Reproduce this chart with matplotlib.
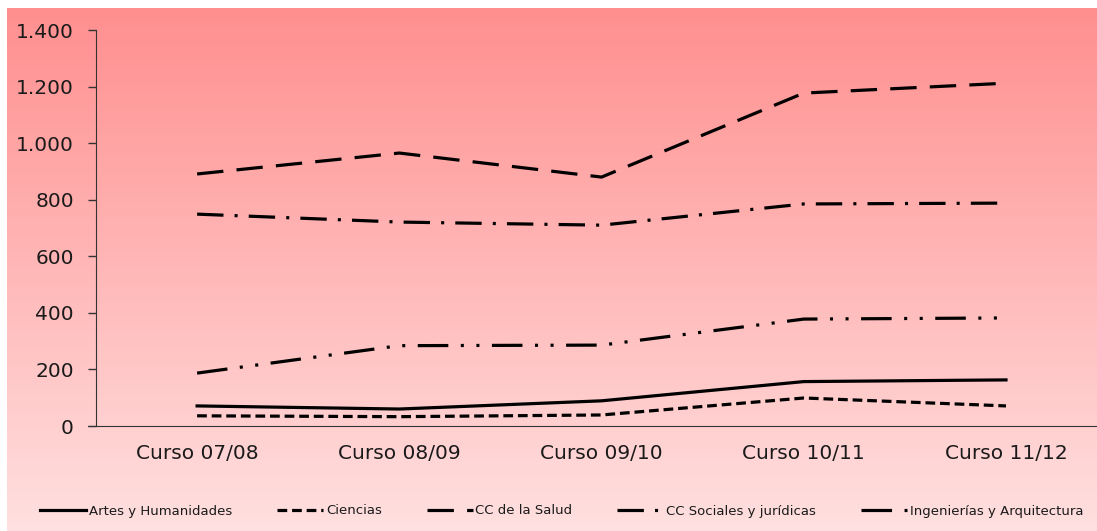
import numpy as np
import matplotlib
matplotlib.use('Agg')
from matplotlib import pyplot as plt
from matplotlib.colors import LinearSegmentedColormap

# ---------------- data ----------------
cursos = ['Curso 07/08', 'Curso 08/09', 'Curso 09/10', 'Curso 10/11', 'Curso 11/12']
artes = [71, 60, 89, 157, 163]
ciencias = [36, 33, 39, 99, 71]
salud = [891, 965, 880, 1177, 1212]
sociales = [749, 721, 710, 785, 788]
ingenierias = [187, 284, 286, 378, 382]

series_names = ['Artes y Humanidades', 'Ciencias', 'CC de la Salud',
                'CC Sociales y jurídicas', 'Ingenierías y Arquitectura']
yticks = [0, 200, 400, 600, 800, 1000, 1200, 1400]
ytick_labels = ['0', '200', '400', '600', '800', '1.000', '1.200', '1.400']

plt.rcParams['font.family'] = ['DejaVu Sans']
plt.rcParams['lines.scale_dashes'] = False

W, H = 1097, 531
fig = plt.figure(figsize=(W / 100, H / 100), dpi=100)
fig.patch.set_facecolor('white')

# gradient background (thin white margin top/left)
bg = fig.add_axes([7 / W, 0, 1 - 7 / W, 1 - 8 / H], zorder=-10)
grad = LinearSegmentedColormap.from_list('g', ['#ff8f8f', '#ffe0e0'])
bg.imshow(np.linspace(0, 1, 256).reshape(-1, 1), aspect='auto', cmap=grad,
          extent=[0, 1, 0, 1], origin='upper')
bg.axis('off')

ax = fig.add_axes([96 / W, 1 - 426 / H, 1 - 96 / W, (426 - 30) / H])
ax.patch.set_alpha(0)

x = np.arange(len(cursos))
lw = 2.3
styles = [
    (artes, '-'),
    (ciencias, (0, (7, 3.5))),
    (salud, (0, (19, 9.5))),
    (sociales, (0, (19, 8, 2.2, 8))),
    (ingenierias, (0, (22, 9, 2.2, 9, 2.2, 9))),
]
for (vals, ls), name in zip(styles, series_names):
    ax.plot(x, vals, color='black', lw=lw, ls=ls, label=name,
            solid_joinstyle='round', dash_joinstyle='round')

ax.set_xlim(-0.5, 4.45)
ax.set_ylim(0, 1400)
ax.set_yticks(yticks)
ax.set_yticklabels(ytick_labels)
ax.set_xticks(x)
ax.set_xticklabels(cursos)
ax.tick_params(axis='y', direction='out', length=6, width=1, color='#333333',
               labelsize=14.5, pad=10, labelcolor='#1a1a1a')
ax.tick_params(axis='x', length=0, labelsize=14.5, pad=13, labelcolor='#1a1a1a')
for s in ['top', 'right']:
    ax.spines[s].set_visible(False)
ax.spines['left'].set_color('#333333')
ax.spines['bottom'].set_color('#333333')
ax.spines['bottom'].set_bounds(-0.54, 4.45)

fig.legend(loc='center', bbox_to_anchor=(0.512, 1 - 511 / H), ncol=5,
           frameon=False, fontsize=9.5, handlelength=3.5, handletextpad=0.2,
           columnspacing=3.4, labelcolor='#1a1a1a')

fig.savefig('out.png', dpi=100, facecolor=fig.get_facecolor())
